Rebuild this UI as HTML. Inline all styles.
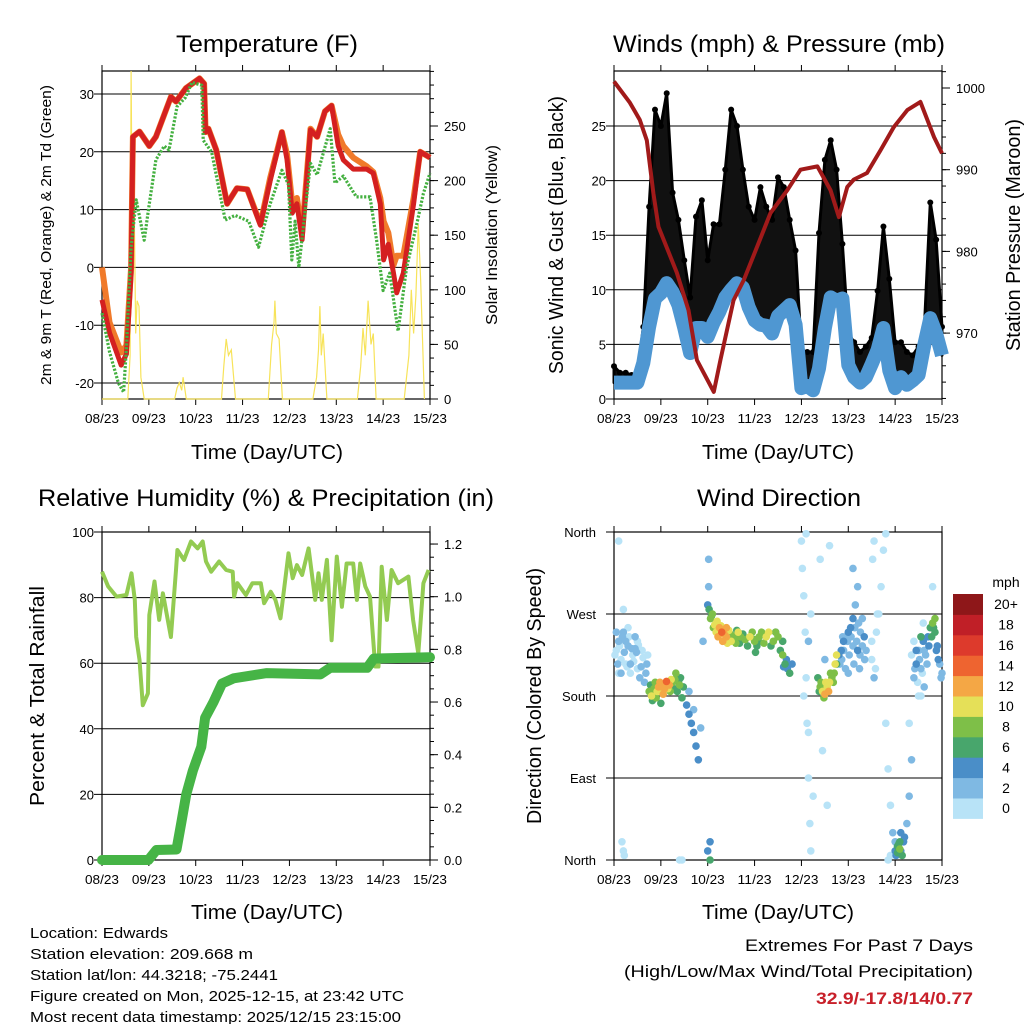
<!DOCTYPE html>
<html><head><meta charset="utf-8"><style>
html,body{margin:0;padding:0;background:#fff;}
svg{display:block;font-family:"Liberation Sans",sans-serif;}
</style></head><body>
<svg id="c" width="1024" height="1024" viewBox="0 0 1024 1024" xmlns="http://www.w3.org/2000/svg"></svg>
<script>
// ---------- DATA ----------
const dayLabels = ["08/23","09/23","10/23","11/23","12/23","13/23","14/23","15/23"];
// Temperature (F)
const tempT  = [0,0.16,0.41,0.52,0.62,0.66,0.8,1.01,1.15,1.47,1.58,1.79,2.08,2.18,2.21,2.27,2.44,2.67,2.88,3.1,3.38,3.59,3.84,3.95,4.06,4.16,4.27,4.45,4.59,4.76,4.9,5.04,5.15,5.36,5.65,5.79,5.94,6.01,6.11,6.22,6.29,6.43,6.65,6.79,7.0];
const tempRed= [-5.6,-11.3,-16.9,-15,-1,22.6,23.5,21,22.6,29.5,28.7,31,32.7,31.8,23.4,24,20.3,11,13.7,13.5,7.3,15,23.4,18.6,9.4,11,4.8,23.8,22.6,27,28,21,18.6,17,17,16.3,11,1.3,4,-1,-4.4,-1,11,20,19];
const tempOrg= [0,-9.5,-14.7,-13.5,0,22.6,23.5,21,22.6,29.5,28.7,31,32.7,31.8,23.4,24,20.3,11,13.7,13.5,7.5,15.5,23.4,19.5,11,12,6,24,22.6,27,28,23,21,19,17.5,16.5,12,8,6,0.4,2,2,12,20,19];
const tdT    = [0,0.16,0.35,0.46,0.52,0.62,0.73,0.9,1.01,1.15,1.33,1.43,1.6,1.78,1.92,2.13,2.16,2.34,2.63,2.84,3.13,3.34,3.59,3.84,3.98,4.05,4.12,4.2,4.45,4.59,4.87,4.97,5.15,5.43,5.72,5.86,6.0,6.14,6.32,6.5,6.72,6.86,7.0];
const tdV    = [-7.9,-14.6,-20,-21.6,-14,3.5,11.7,4.7,11,18.6,21,20.3,27.8,29.4,32,31.5,22,20,8.2,9,8,3.5,11,16.8,14.3,1.3,8,0,18,16,24,14.6,15.8,12.2,12.2,4.7,-4,-1,-11,0,7.6,12.8,16.3];
const solarT = [0,0.55,0.6,0.62,0.65,0.68,0.72,0.75,0.79,0.83,0.9,1.55,1.6,1.65,1.7,1.73,1.8,2.55,2.6,2.65,2.7,2.76,2.85,3.55,3.62,3.67,3.69,3.72,3.78,3.85,4.5,4.58,4.62,4.65,4.68,4.72,4.8,5.45,5.52,5.57,5.62,5.68,5.74,5.79,5.85,6.45,6.55,6.6,6.65,6.7,6.75,6.8,6.88];
const solarV = [0,0,40,310,120,200,60,90,85,20,0,0,10,15,8,20,0,0,30,55,40,45,0,0,50,70,90,60,55,0,0,20,45,85,40,60,0,0,30,65,40,90,50,60,0,0,40,100,60,95,160,110,0];
// Winds (mph) & pressure (mb), 3-hourly
const windT  = [0,0.125,0.25,0.375,0.5,0.625,0.75,0.875,1,1.125,1.25,1.375,1.5,1.625,1.75,1.875,2,2.125,2.25,2.375,2.5,2.625,2.75,2.875,3,3.125,3.25,3.375,3.5,3.625,3.75,3.875,4,4.125,4.25,4.375,4.5,4.625,4.75,4.875,5,5.125,5.25,5.375,5.5,5.625,5.75,5.875,6,6.125,6.25,6.375,6.5,6.625,6.75,6.875,7];
const windV  = [1.5,1.5,1.5,1.5,1.5,3.3,6.6,9.2,9.7,10.6,9.8,8.6,6.5,4.2,6.5,6.5,5.7,7,8,9.3,10,10.6,10.2,8.4,7.2,6.8,6.7,6,7.6,8.1,8.6,6.8,1,1.2,0.8,2.8,6.5,9.3,9,9.2,3.1,2,1.5,2,3.2,4.5,6.5,2.6,1,2,1.3,1.7,2.2,5,7.4,6,4];
const gustV  = [3,2.4,2.4,2.2,2.1,6.6,17.6,26.5,25,28,18.9,16.4,12.7,9.3,16.7,18.2,12.7,16,16,21,26.5,25,21,17.6,16.4,19.4,17.6,16.4,20.3,19.4,16.4,13.6,4.5,4.3,4.3,15.2,21.9,23.7,21,14.2,6,5.2,4.3,4.8,5.6,9.9,15.8,11,5.2,5.2,4.3,4,4.8,6.6,18,14.6,6.6];
const presT  = [0,0.34,0.55,0.7,0.84,0.95,1.34,1.59,1.77,2.13,2.27,2.55,2.77,3.05,3.34,3.7,3.98,4.34,4.62,4.8,4.98,5.12,5.4,5.69,5.97,6.26,6.54,6.83,7.0];
const presV  = [1000.8,998.2,996.1,993.6,987.1,983,977.4,972.8,966.7,962.8,966.7,974,976.5,980.5,984.7,987.5,990,990.4,987.5,984.2,987.9,988.8,989.6,992.4,995.2,997.3,998.3,994,992];
// RH (%) & precipitation (in)
const rhT = [0,0.13,0.31,0.52,0.63,0.7,0.73,0.8,0.87,0.98,1.01,1.12,1.22,1.3,1.47,1.58,1.61,1.75,1.9,2.04,2.15,2.22,2.33,2.5,2.65,2.79,2.82,2.89,3.07,3.21,3.39,3.46,3.6,3.7,3.81,3.98,4.07,4.16,4.27,4.41,4.55,4.62,4.69,4.8,4.9,5.01,5.12,5.22,5.36,5.44,5.51,5.62,5.72,5.83,5.9,5.97,6.08,6.18,6.32,6.54,6.64,6.75,6.86,6.97];
const rhV = [87.9,83.4,80.3,80.8,87.4,79.3,68,61,47.2,50.8,74.7,84.9,73.2,81.3,68,88.4,94.5,91.5,97.1,95,97.1,91,87.9,91,88.4,87.9,80.3,84.4,80.8,84.4,84.4,78.3,81.8,79.3,73.7,93.5,85.9,89.9,86.9,95,79.3,87.4,79.3,91.5,67,92.5,77.2,90.4,90.4,79.3,90.4,83.4,80.3,59,59,89.4,73.2,88.4,84.4,86.4,73.2,63,84.4,88.4];
const prT = [0,0.99,1.16,1.59,1.7,1.8,1.94,2.12,2.2,2.38,2.56,2.81,3.52,4.66,4.87,5.66,5.8,7.0];
const prV = [0,0,0.038,0.04,0.15,0.25,0.34,0.43,0.54,0.6,0.67,0.69,0.71,0.705,0.73,0.73,0.765,0.77];
// Wind direction (deg) colored by speed (mph)
const wdTa = [0.05,0.1,0.15,0.2,0.25,0.3,0.35,0.4,0.45,0.5,0.55,0.6,0.65,0.7,0.1,0.3,0.5,0.2,0.2,0.22,
 0.75,0.8,0.85,0.9,0.95,1,1.05,1.1,1.15,1.2,1.25,1.3,1.35,1.4,1.45,1,0.9,1.1,
 1.55,1.6,1.65,1.7,1.75,1.8,1.6,1.7,1.85,1.4,1.45,0.1,0.17,
 2.0,2.03,2.06,2.1,2.15,2.2,2.25,2.3,2.35,2.4,2.45,2.5,2.55,2.6,2.65,2.7,2.8,2.9,3,3.05,3.1,3.2,3.3,3.4,3.5,3.55,3.6,3.65,3.7,3.75,3.8,2.05,2.05,2.0,2.02,1.9,2.02,2.4,2.7,3.0,3.45,
 4.0,4.02,4.05,4.08,4.1,4.12,4.15,4.18,4.2,4.1,4.15,4.2,4.05,4.15,4.25,
 4.35,4.4,4.45,4.5,4.55,4.6,4.65,4.7,4.75,4.8,4.85,4.9,4.95,5,5.05,5.1,5.15,5.2,5.25,5.3,5.35,4.4,4.5,4.6,4.45,4.55,5.1,5.2,
 5.5,5.55,5.6,5.65,5.7,5.75,5.8,5.85,5.9,5.95,6,5.8,5.85,5.9,
 6.0,6.05,6.1,6.15,6.2,6.25,6.3,6.35,6.1,6.12,
 6.4,6.45,6.5,6.55,6.6,6.65,6.7,6.75,6.8,6.85,6.9,6.95,7,6.5,6.6,6.8,6.3,6.45,6.55,6.85];
const wdDirA = [230,240,220,250,215,235,205,225,245,210,200,230,195,215,205,255,240,275,10,5,
 185,180,188,178,190,185,182,192,188,185,195,198,185,192,178,172,185,190,
 170,160,150,140,125,110,185,165,145,0,0,350,20,
 280,275,265,270,258,262,255,250,248,245,252,240,245,238,250,245,242,245,240,235,245,238,250,240,245,230,225,215,210,205,215,0,20,10,300,240,330,255,248,242,250,
 350,320,290,250,200,150,90,40,10,358,240,270,180,140,70,
 200,190,185,182,190,195,200,205,215,225,230,240,245,250,255,265,280,230,225,235,220,330,220,345,120,60,320,300,
 220,200,250,270,300,340,150,100,60,30,20,358,0,5,
 10,15,20,5,25,40,70,110,12,30,
 200,215,230,210,240,225,245,255,260,250,235,215,205,180,260,300,150,230,245,265];
const wdSpdA = [1,2,1,2,1,2,0,1,2,1,2,1,3,2,1,0,1,0,1,0,
 8,10,9,8,12,11,13,11,10,9,8,9,7,8,6,7,9,10,
 4,5,4,4,5,4,3,2,3,1,0,1,1,
 4,6,8,9,10,11,12,14,13,12,11,10,9,8,10,9,8,10,8,7,9,8,10,8,9,7,8,6,5,6,4,6,5,4,3,3,2,12,6,8,5,
 0,1,0,1,1,0,1,0,1,0,2,1,0,0,1,
 6,8,10,12,11,10,9,8,6,4,5,4,3,4,5,4,3,4,3,2,3,1,2,0,1,0,2,2,
 1,2,0,1,0,1,1,0,1,2,3,0,0,1,
 5,6,7,6,4,3,2,2,8,4,
 3,4,2,3,4,2,5,7,8,6,4,3,2,1,0,1,1,4,6,8];
const wdTb = [0.02,0.08,0.12,0.18,0.22,0.28,0.32,0.38,0.42,0.48,0.52,0.58,0.62,0.68,0.72,0.05,0.15,0.35,0.25,0.45,
 0.78,0.82,0.88,0.92,0.98,1.02,1.08,1.12,1.18,1.22,1.28,1.32,1.38,1.42,1.48,
 2.08,2.12,2.18,2.22,2.28,2.32,2.38,2.42,2.48,2.58,2.62,2.68,2.75,2.85,2.95,3.02,3.08,3.15,3.25,3.35,3.45,3.6,3.62,3.68,
 4.38,4.42,4.48,4.52,4.58,4.62,4.68,4.72,4.75,
 4.82,4.86,4.9,4.94,4.98,5.02,5.06,5.1,5.14,5.18,5.22,5.26,5.3,5.34,5.38,4.88,5.0,5.12,5.24,
 6.35,6.42,6.48,6.52,6.58,6.62,6.68,6.72,6.78,6.82,6.88,6.92,6.98,6.55,6.62,6.4,
 5.5,5.58,5.62,5.52,5.55,
 6.05,6.08,6.12,6.02,6.18];
const wdDirB = [225,215,235,245,228,212,245,232,218,228,236,212,222,205,225,250,205,215,240,232,
 192,175,195,185,195,190,188,196,192,198,188,205,195,200,190,
 268,255,250,245,257,240,252,238,248,242,252,238,248,235,250,228,240,250,245,235,250,240,212,220,
 185,195,178,195,185,205,195,215,225,
 215,220,230,210,240,225,245,235,255,240,260,250,265,245,230,245,205,215,210,
 225,210,195,220,205,230,215,235,245,255,230,220,200,180,190,240,
 240,210,270,330,350,
 8,18,10,5,20];
const wdSpdB = [1,2,1,2,2,1,1,2,1,2,1,2,1,2,1,2,3,3,3,3,
 7,6,8,11,12,13,12,14,12,10,7,8,7,6,7,
 7,9,10,12,11,13,10,11,8,9,7,6,7,6,8,6,7,9,10,7,9,6,4,5,
 7,9,8,10,12,8,9,10,11,
 3,2,3,2,3,2,3,2,3,2,3,2,3,4,2,2,2,2,2,
 1,2,1,2,1,2,3,4,6,7,5,4,3,1,2,1,
 1,1,0,0,0,
 6,7,5,4,4];
const wdT = wdTa.concat(wdTb);
const wdDir = wdDirA.concat(wdDirB);
const wdSpd = wdSpdA.concat(wdSpdB);
const speedLabels = ["0","2","4","6","8","10","12","14","16","18","20+"];
const speedColors = ["#b8e3f7","#7fb9e3","#4a8ec8","#48a66c","#7ebf48","#e5e058","#f4a745","#ee6430","#dd3a2c","#c01f27","#8e1719"];

// ---------- HELPERS ----------
const NS="http://www.w3.org/2000/svg";
const svg=document.getElementById('c');
function mk(tag,attrs,parent){const e=document.createElementNS(NS,tag);for(const k in attrs)e.setAttribute(k,attrs[k]);(parent||svg).appendChild(e);return e;}
function txt(s,x,y,size,anchor,parent,extra){const e=mk('text',Object.assign({x:x,y:y,'font-size':size,'text-anchor':anchor||'start',fill:'#000'},extra||{}),parent);e.textContent=s;return e;}
function pts(ts,vs,xf,yf){return ts.map((t,i)=>xf(t).toFixed(1)+','+yf(vs[i]).toFixed(1)).join(' ');}

function frame(L,T,R,B,name){
  const g=mk('g',{});
  
  
  mk('rect',{x:L,y:T,width:R-L,height:B-T,fill:'none',stroke:'#000','stroke-width':1.2},g);
  return g;
}
function xAxis(g,L,R,T,B){
  const xf=t=>L+t*(R-L)/7;
  for(let i=0;i<=7;i++){
    const x=xf(i);
    mk('line',{x1:x,y1:T,x2:x,y2:T-6,stroke:'#000','stroke-width':1},g);
    mk('line',{x1:x,y1:B,x2:x,y2:B+6,stroke:'#000','stroke-width':1},g);
    const lb=txt(dayLabels[i],x,B+24,13,'middle',g,{textLength:34,lengthAdjust:'spacingAndGlyphs'});
    
    
  }
  return xf;
}
function hGrid(g,L,R,ys,labels,lx){
  ys.forEach((y,i)=>{
    mk('line',{x1:L-8,y1:y,x2:R,y2:y,stroke:'#000','stroke-width':1},g);
    const lb=txt(labels[i],lx,y+5,13,'end',g);
    
    
  });
}
function rightTicks(g,R,ys,labels,minor){
  minor.forEach(y=>mk('line',{x1:R,y1:y,x2:R+4,y2:y,stroke:'#000','stroke-width':1},g));
  ys.forEach((y,i)=>{
    mk('line',{x1:R,y1:y,x2:R+8,y2:y,stroke:'#000','stroke-width':1},g);
    const lb=txt(labels[i],R+14,y+5,13,'start',g);
    
    
  });
}
function vtitle(s,x,y,size,len,g){const e=txt(s,0,0,size,'middle',g,{transform:`translate(${x},${y}) rotate(-90)`,textLength:len,lengthAdjust:'spacingAndGlyphs'});return e;}

// ---------- PANEL 1: TEMPERATURE ----------
(function(){
  const L=102,R=430,T=71,B=399;
  const g=frame(L,T,R,B,'temperature');
  const xf=xAxis(g,L,R,T,B);
  const yT=v=>94+(30-v)*5.78;
  const yS=v=>399-v*54.6/50;
  hGrid(g,L,R,[30,20,10,0,-10,-20].map(yT),["30","20","10","0","-10","-20"],94);
  const mn=[];for(let v=0;v<=300;v+=12.5)mn.push(yS(v));
  rightTicks(g,R,[0,50,100,150,200,250].map(yS),["0","50","100","150","200","250"],mn.filter(y=>y>=T));
  const sol=mk('polyline',{points:pts(solarT,solarV,xf,v=>Math.max(T,yS(v))),fill:'none',stroke:'#f7e35a','stroke-width':1.2});
  
  
  const org=mk('polyline',{points:pts(tempT,tempOrg,xf,yT),fill:'none',stroke:'#f07a2a','stroke-width':6,'stroke-linejoin':'round'});
  
  
  const red=mk('polyline',{points:pts(tempT,tempRed,xf,yT),fill:'none',stroke:'#d42020','stroke-width':5,'stroke-linejoin':'round'});
  
  
  const td=mk('polyline',{points:pts(tdT,tdV,xf,yT),fill:'none',stroke:'#44b040','stroke-width':3.2,'stroke-dasharray':'2.2 1.6','stroke-linejoin':'round'});
  
  
  const t1=txt("Temperature (F)",267,52,24,'middle',null,{textLength:182,lengthAdjust:'spacingAndGlyphs'});
  
  
  const yl=vtitle("2m & 9m T (Red, Orange) & 2m Td (Green)",51,235,15,300);
  
  
  const yr=vtitle("Solar Insolation (Yellow)",497,235,16,180);
  
  
  const xt=txt("Time (Day/UTC)",267,459,20,'middle',null,{textLength:152,lengthAdjust:'spacingAndGlyphs'});
  
  
})();

// ---------- PANEL 2: WINDS & PRESSURE ----------
(function(){
  const L=614,R=942,T=71,B=399;
  const g=frame(L,T,R,B,'winds');
  const xf=xAxis(g,L,R,T,B);
  const yW=v=>399-v*10.92;
  const yP=v=>88+(1000-v)*8.17;
  hGrid(g,L,R,[0,5,10,15,20,25].map(yW),["0","5","10","15","20","25"],606);
  const mn=[];for(let v=962;v<=1002;v+=2)mn.push(yP(v));
  rightTicks(g,R,[1000,990,980,970].map(yP),["1000","990","980","970"],mn.filter(y=>y>=T&&y<=B));
  const top=windT.map((t,i)=>xf(t).toFixed(1)+','+yW(gustV[i]).toFixed(1));
  const bot=windT.slice().reverse().map((t,j)=>{const i=windT.length-1-j;return xf(t).toFixed(1)+','+yW(windV[i]).toFixed(1);});
  const cloud=mk('polygon',{points:top.concat(bot).join(' '),fill:'#111',stroke:'#000','stroke-width':3,'stroke-linejoin':'round'});
  
  
  windT.forEach((t,i)=>{
    const d=mk('circle',{cx:xf(t),cy:yW(gustV[i]),r:3,fill:'#000'});
    
    
  });
  const wl=mk('polyline',{points:pts(windT,windV,xf,yW),fill:'none',stroke:'#4f97d2','stroke-width':14,'stroke-linejoin':'round'});
  
  
  const pl=mk('polyline',{points:pts(presT,presV,xf,yP),fill:'none',stroke:'#a11a1a','stroke-width':4,'stroke-linejoin':'round'});
  
  
  const t1=txt("Winds (mph) & Pressure (mb)",779,52,24,'middle',null,{textLength:332,lengthAdjust:'spacingAndGlyphs'});
  
  
  const yl=vtitle("Sonic Wind & Gust (Blue, Black)",563,235,20,278);
  
  
  const yr=vtitle("Station Pressure (Maroon)",1020,235,20,232);
  
  
  const xt=txt("Time (Day/UTC)",778,459,20,'middle',null,{textLength:152,lengthAdjust:'spacingAndGlyphs'});
  
  
})();

// ---------- PANEL 3: RH & PRECIP ----------
(function(){
  const L=102,R=430,T=532,B=860;
  const g=frame(L,T,R,B,'humidity');
  const xf=xAxis(g,L,R,T,B);
  const yR=v=>860-v*3.28;
  const yPr=v=>860-v*263.3;
  hGrid(g,L,R,[0,20,40,60,80,100].map(yR),["0","20","40","60","80","100"],94);
  const mn=[];for(let v=0;v<=1.24;v+=0.05)mn.push(yPr(v));
  rightTicks(g,R,[0,0.2,0.4,0.6,0.8,1.0,1.2].map(yPr),["0.0","0.2","0.4","0.6","0.8","1.0","1.2"],mn);
  const rh=mk('polyline',{points:pts(rhT,rhV,xf,yR),fill:'none',stroke:'#93cb52','stroke-width':4,'stroke-linejoin':'round'});
  
  
  const pr=mk('polyline',{points:pts(prT,prV,xf,yPr),fill:'none',stroke:'#46b446','stroke-width':10,'stroke-linejoin':'round','stroke-linecap':'round'});
  
  
  const t1=txt("Relative Humidity (%) & Precipitation (in)",266,506,24,'middle',null,{textLength:456,lengthAdjust:'spacingAndGlyphs'});
  
  
  const yl=vtitle("Percent & Total Rainfall",44,696,20,220);
  
  
  const xt=txt("Time (Day/UTC)",267,919,20,'middle',null,{textLength:152,lengthAdjust:'spacingAndGlyphs'});
  
  
})();

// ---------- PANEL 4: WIND DIRECTION ----------
(function(){
  const L=614,R=942,T=532,B=860;
  const g=frame(L,T,R,B,'wind-direction');
  const xf=xAxis(g,L,R,T,B);
  const yD=v=>860-v*328/360;
  hGrid(g,L,R,[0,90,180,270,360].map(yD),["North","East","South","West","North"],596);
  const order=wdSpd.map((s,i)=>i).sort((a,b)=>wdSpd[a]-wdSpd[b]);
  order.forEach(i=>{
    const bin=Math.min(10,Math.floor(wdSpd[i]/2));
    const d=mk('circle',{cx:xf(wdT[i]),cy:yD(wdDir[i]),r:3.8,fill:speedColors[bin]});
    
    
  });
  const cb=mk('g',{});
  
  
  const cbTop=594,cbH=20.4;
  speedLabels.forEach((s,i)=>{
    const y=cbTop+(10-i)*cbH;
    mk('rect',{x:953,y:y,width:30,height:cbH+0.5,fill:speedColors[i]},cb);
    const lb=txt(s,1006,y+cbH/2+5,14,'middle',cb);
    
    
  });
  txt("mph",1006,587,14,'middle',cb);
  const t1=txt("Wind Direction",779,506,24,'middle',null,{textLength:164,lengthAdjust:'spacingAndGlyphs'});
  
  
  const yl=vtitle("Direction (Colored By Speed)",541,696,20,256);
  
  
  const xt=txt("Time (Day/UTC)",778,919,20,'middle',null,{textLength:152,lengthAdjust:'spacingAndGlyphs'});
  
  
})();

// ---------- FOOTER ----------
const info=[["Location: Edwards",138],["Station elevation: 209.668 m",223],["Station lat/lon: 44.3218; -75.2441",248],["Figure created on Mon, 2025-12-15, at 23:42 UTC",374],["Most recent data timestamp: 2025/12/15 23:15:00",371]];
info.forEach((p,i)=>{
  const e=txt(p[0],30,938+i*21,15,'start',null,{textLength:p[1],lengthAdjust:'spacingAndGlyphs'});
  
  
});
const ex1=txt("Extremes For Past 7 Days",973,951,17,'end',null,{textLength:228,lengthAdjust:'spacingAndGlyphs'});


const ex2=txt("(High/Low/Max Wind/Total Precipitation)",973,977,17,'end',null,{textLength:349,lengthAdjust:'spacingAndGlyphs'});


const ex3=txt("32.9/-17.8/14/0.77",973,1004,17,'end',null,{fill:'#c8202a','font-weight':'bold',textLength:157,lengthAdjust:'spacingAndGlyphs'});


</script>
</body></html>
